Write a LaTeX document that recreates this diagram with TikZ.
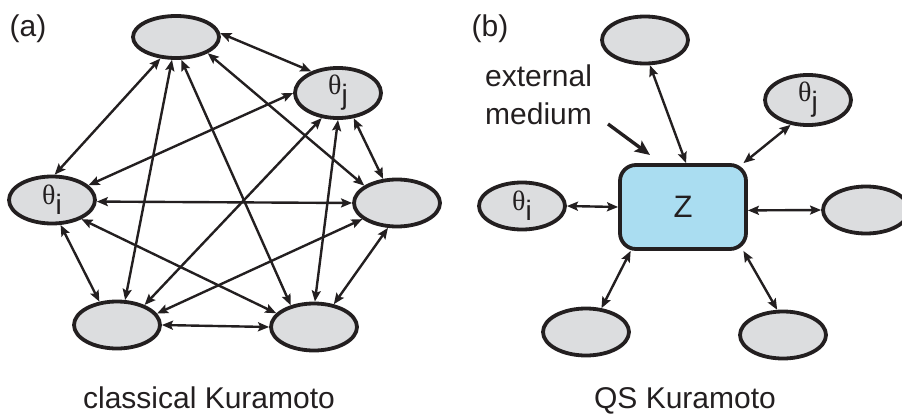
\documentclass[tikz,border=0pt]{standalone}
\usepackage{fontspec}
\setmainfont{Liberation Sans}
\newfontfamily\greekfont{Liberation Serif}
\usetikzlibrary{shapes.geometric,arrows.meta}
\definecolor{ink}{HTML}{231F20}
\definecolor{oscfill}{HTML}{DCDDDF}
\definecolor{medfill}{HTML}{AADDF1}
% phase label: serif theta with a lowered sans index
\newcommand{\phase}[1]{{\greekfont\fontsize{28}{28}\selectfont θ}\raisebox{-10pt}{\fontsize{28}{28}\selectfont #1}}
\begin{document}
\begin{tikzpicture}[x=1pt,y=-1pt,
  osc/.style={ellipse,draw=ink,fill=oscfill,line width=3.8pt,
    minimum width=86pt,minimum height=47pt,inner sep=0pt,text=ink},
  medium/.style={rectangle,rounded corners=16pt,draw=ink,fill=medfill,
    line width=3.8pt,minimum width=126pt,minimum height=84pt,inner sep=0pt,
    text=ink,font=\fontsize{31}{36}\selectfont},
  link/.style={draw=ink,line width=2.4pt,
    {Stealth[length=11pt,width=9pt,inset=2pt]}-{Stealth[length=11pt,width=9pt,inset=2pt]}},
  lbl/.style={text=ink,font=\fontsize{30}{38}\selectfont,inner sep=0pt}]
\useasboundingbox (0,0) rectangle (902,415);
\clip (0,0) rectangle (902,415);

% ---- (a) all-to-all coupling ----
\node[lbl,anchor=base] (tagA) at (28,36) {(a)};
\node[osc,minimum height=42pt] (A) at (176,37) {};
\node[osc,minimum height=44pt] (J) at (338,93) {\phase{j}};
\node[osc] (I) at (52,200) {\phase{i}};
\node[osc] (R) at (397,203) {};
\node[osc] (L) at (117,325) {};
\node[osc] (B) at (314,327) {};

\draw[link] (A.5)   -- (J.141);
\draw[link] (A.234) -- (I.84);
\draw[link] (A.260) -- (L.72);
\draw[link] (A.283) -- (B.137);
\draw[link] (A.333) -- (R.152);
\draw[link] (J.180) -- (I.22);
\draw[link] (J.237) -- (L.36);
\draw[link] (J.270) -- (B.88);
\draw[link] (J.302) -- (R.120);
\draw[link] (I.358) -- (R.180);
\draw[link] (I.289) -- (L.127);
\draw[link] (I.327) -- (B.160);
\draw[link] (R.205) -- (L.16);
\draw[link] (R.250) -- (B.49);
\draw[link] (L.0)   -- (B.180);

\node[lbl,anchor=base] (capA) at (209,408) {classical Kuramoto};

% ---- (b) coupling through the medium ----
\node[lbl,anchor=base] (tagB) at (490,36) {(b)};
\node[medium] (Z) at (683,207) {Z};
\node[osc] (b1) at (645,40) {};
\node[osc] (b2) at (808,100) {\phase{j}};
\node[osc] (b3) at (522,206) {\phase{i}};
\node[osc] (b4) at (866,210) {};
\node[osc] (b5) at (586,332) {};
\node[osc] (b6) at (783,335) {};

\draw[link] (b1.281) -- (Z.86);
\draw[link] (b2.235) -- (Z.36);
\draw[link] (b3.0)   -- (Z.180);
\draw[link] (Z.357)  -- (b4.180);
\draw[link] (b5.57)  -- (Z.220);
\draw[link] (Z.324)  -- (b6.103);

\node[lbl,anchor=west,align=left] (ext) at (485,95) {external\\medium};
\coordinate (hintstart) at (608,124);
\coordinate (hintend) at (650,155);
\draw[draw=ink,line width=3.4pt,-{Stealth[length=15pt,width=13pt,inset=3pt]}] (hintstart) -- (hintend);

\node[lbl,anchor=base] (capB) at (685,408) {QS Kuramoto};
\end{tikzpicture}
\end{document}
